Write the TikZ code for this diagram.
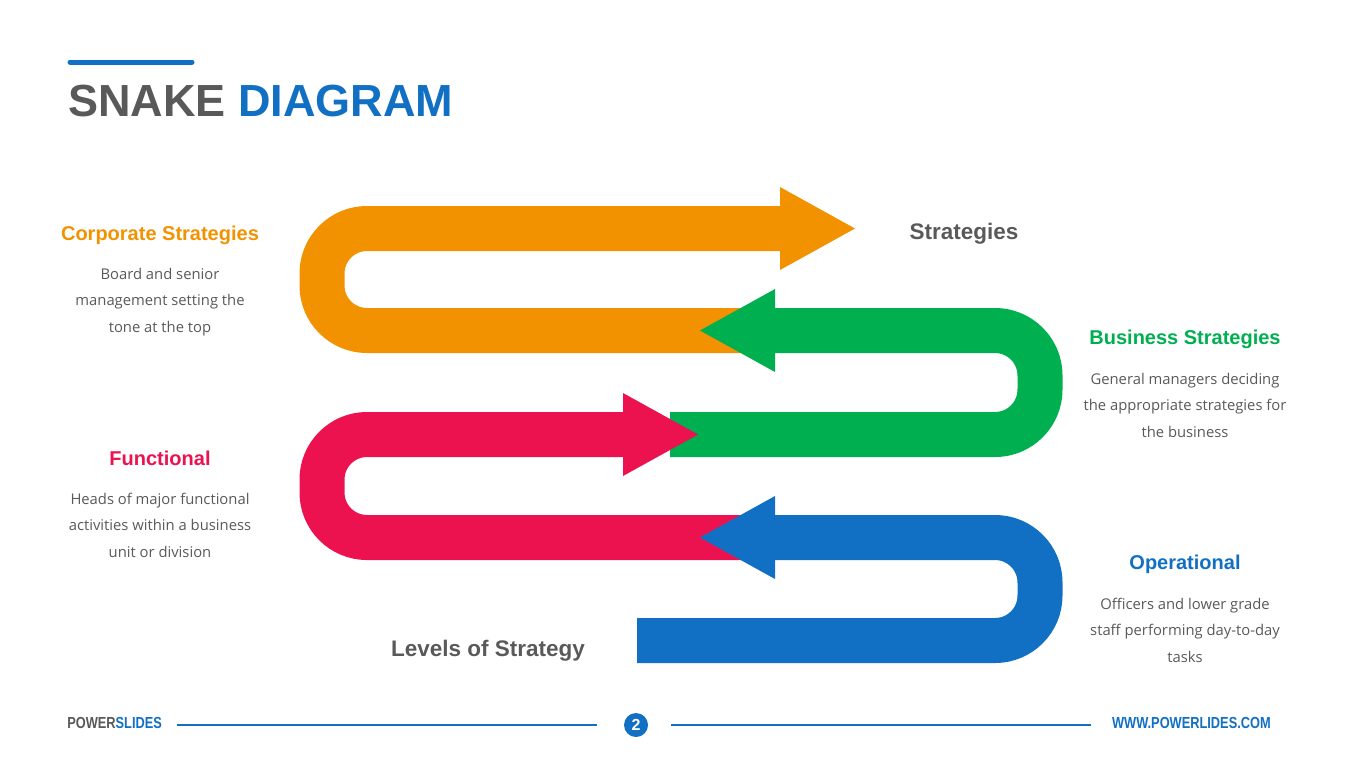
\documentclass[tikz,border=0pt]{standalone}
\usepackage{fontspec}
\setmainfont{Liberation Sans}
\newfontfamily\descfont{Open Sans}
\usepackage{tikz}

\definecolor{orangeS}{HTML}{F39200}
\definecolor{greenS}{HTML}{00AF50}
\definecolor{redS}{HTML}{EB124F}
\definecolor{blueS}{HTML}{1170C4}
\definecolor{grayT}{HTML}{595959}

\begin{document}
\begin{tikzpicture}[x=0.5pt,y=-0.5pt,
    band/.style={line width=22.5pt,rounded corners=22.5pt},
    head/.style={font=\bfseries\fontsize{10}{12}\selectfont,anchor=base},
    desc/.style={font=\descfont\fontsize{7.4}{13.25}\selectfont,text=grayT,align=center,anchor=base},
    big/.style={font=\bfseries\fontsize{11.25}{13}\selectfont,text=grayT,anchor=base}]
    \useasboundingbox (0,0) rectangle (1365,767);

    % title
    \draw[blueS,line width=2.5pt,line cap=round] (70,62) -- (192,62);
    \node[anchor=base west,inner sep=0,font=\bfseries\fontsize{22.5}{26}\selectfont] (title) at (68,116) {\color{grayT}SNAKE \color{blueS}DIAGRAM};

    % snake
    \draw[band,orangeS] (760,330.5) -- (322,330.5) -- (322,228.5) -- (781,228.5);
    \fill[orangeS] (780,187) -- (855,228.5) -- (780,270) -- cycle;
    \draw[band,greenS] (774,330.5) -- (1040,330.5) -- (1040,434.5) -- (670,434.5);
    \fill[greenS] (775,289) -- (700,330.5) -- (775,372) -- cycle;
    \draw[band,redS] (760,537.5) -- (322,537.5) -- (322,434.5) -- (624,434.5);
    \fill[redS] (623,393) -- (698,434.5) -- (623,476) -- cycle;
    \draw[band,blueS] (774,537.5) -- (1040,537.5) -- (1040,640.5) -- (637,640.5);
    \fill[blueS] (775,496) -- (700,537.5) -- (775,579) -- cycle;

    \node[big] (strat) at (964,239) {Strategies};
    \node[big] (levels) at (488,656) {Levels of Strategy};

    % left and right texts (base = last line)
    \node[head,text=orangeS] (corp) at (160,240) {Corporate Strategies};
    \node[desc] (corpd) at (160,332) {Board and senior\\management setting the\\tone at the top};
    \node[head,text=greenS] (bus) at (1185,344) {Business Strategies};
    \node[desc] (busd) at (1185,437) {General managers deciding\\the appropriate strategies for\\the business};
    \node[head,text=redS] (func) at (160,465) {Functional};
    \node[desc] (funcd) at (160,557) {Heads of major functional\\activities within a business\\unit or division};
    \node[head,text=blueS] (oper) at (1185,569) {Operational};
    \node[desc] (operd) at (1185,662) {Officers and lower grade\\staff performing day-to-day\\tasks};

    % footer
    \node[anchor=base west,inner sep=0,xscale=0.8,transform shape,font=\bfseries\fontsize{8}{10}\selectfont] (brand) at (67,728) {\color{grayT}POWER\color{blueS}SLIDES};
    \node[anchor=base east,inner sep=0,xscale=0.8,transform shape,font=\bfseries\fontsize{8}{10}\selectfont,text=blueS] (web) at (1271,728) {WWW.POWERLIDES.COM};
    \node[circle,fill=blueS,minimum size=12pt,inner sep=0,text=white,font=\bfseries\fontsize{8}{10}\selectfont] (page) at (636,725) {2};
    \draw[blueS,line width=0.6pt] (177,725) -- (597,725);
    \draw[blueS,line width=0.6pt] (671,725) -- (1091,725);
\end{tikzpicture}
\end{document}
